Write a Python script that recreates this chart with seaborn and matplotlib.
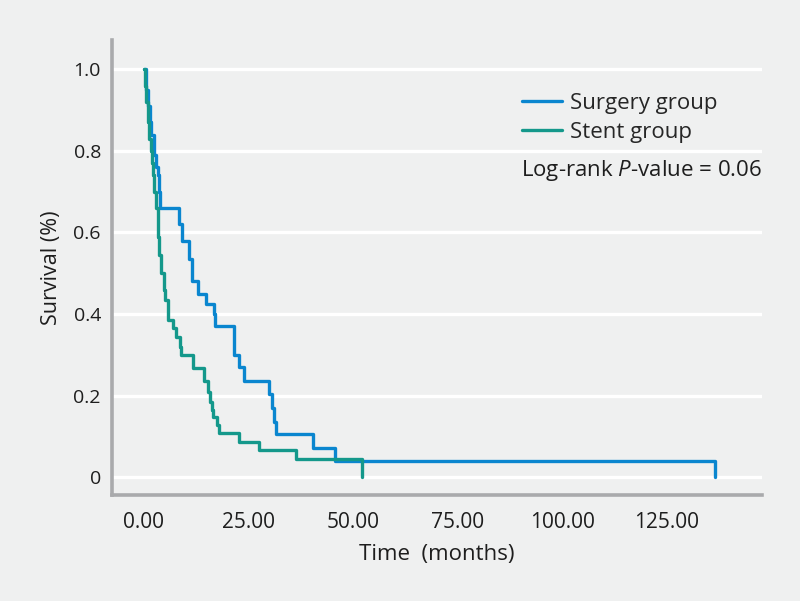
import pandas as pd
import seaborn as sns
import matplotlib.pyplot as plt

# Kaplan-Meier steps: time (months) and survival after that time
surgery_time = [0, 0.5, 1.0, 1.5, 1.8, 2.4, 2.9, 3.3, 3.6, 3.8, 8.4, 9.2, 10.8, 11.5,
                12.9, 14.8, 16.7, 17.0, 21.5, 22.7, 23.9, 29.9, 30.6, 31.1, 31.6,
                40.4, 45.7, 136.6]
surgery_surv = [1.0, 0.95, 0.91, 0.87, 0.84, 0.79, 0.76, 0.74, 0.70, 0.66, 0.62, 0.58,
                0.535, 0.48, 0.45, 0.425, 0.40, 0.37, 0.30, 0.27, 0.235, 0.205, 0.17,
                0.135, 0.105, 0.072, 0.04, 0.0]

stent_time = [0, 0.3, 0.6, 1.0, 1.3, 1.7, 2.0, 2.2, 2.5, 2.9, 3.35, 3.6, 4.2, 4.8, 5.1,
              5.7, 6.9, 7.7, 8.6, 8.9, 11.7, 14.4, 15.3, 15.8, 16.2, 16.5, 17.5, 17.9,
              22.7, 27.5, 36.4, 52.2]
stent_surv = [1.0, 0.96, 0.92, 0.87, 0.83, 0.80, 0.77, 0.74, 0.70, 0.66, 0.59, 0.544,
              0.50, 0.46, 0.434, 0.385, 0.365, 0.343, 0.32, 0.30, 0.267, 0.235, 0.21,
              0.184, 0.165, 0.147, 0.128, 0.108, 0.086, 0.066, 0.046, 0.0]

groups = ['Surgery group', 'Stent group']
colors = ['#0a86cf', '#14988b']
y_ticks = [0, 0.2, 0.4, 0.6, 0.8, 1.0]
y_tick_labels = ['0', '0.2', '0.4', '0.6', '0.8', '1.0']
x_ticks = [0, 25, 50, 75, 100, 125]
x_tick_labels = ['0.00', '25.00', '50.00', '75.00', '100.00', '125.00']

df = pd.concat([
    pd.DataFrame({'Time': surgery_time, 'Survival': surgery_surv, 'Group': groups[0]}),
    pd.DataFrame({'Time': stent_time, 'Survival': stent_surv, 'Group': groups[1]}),
])

bg = '#eff0f0'
text_color = '#1e1e1e'
sns.set_theme(style='white')
plt.rcParams['font.family'] = ['Open Sans', 'DejaVu Sans']
plt.rcParams['mathtext.fontset'] = 'custom'
plt.rcParams['mathtext.rm'] = 'Open Sans'
plt.rcParams['mathtext.it'] = 'Open Sans:italic'

fig = plt.figure(figsize=(8, 6.01), dpi=100, facecolor=bg)
ax = fig.add_axes([0.14, 0.176, 0.8125, 0.757])
ax.set_facecolor(bg)

for y in y_ticks:
    ax.axhline(y, color='white', lw=2.4, zorder=0)

sns.lineplot(data=df, x='Time', y='Survival', hue='Group', hue_order=groups,
             palette=colors, estimator=None, sort=True, drawstyle='steps-post',
             linewidth=2.4, ax=ax, zorder=3)

ax.set_xlim(-7.6, 147.8)
ax.set_ylim(-0.044, 1.071)
ax.set_xticks(x_ticks)
ax.set_xticklabels(x_tick_labels)
ax.set_yticks(y_ticks)
ax.set_yticklabels(y_tick_labels)
ax.tick_params(length=0, colors=text_color)
ax.tick_params(axis='x', labelsize=15, pad=12)
ax.tick_params(axis='y', labelsize=14, pad=8)

for side in ['top', 'right']:
    ax.spines[side].set_visible(False)
for side in ['left', 'bottom']:
    ax.spines[side].set_color('#a9aaac')
    ax.spines[side].set_linewidth(2.6)

ax.set_xlabel('Time  (months)', fontsize=16, color=text_color, labelpad=8)
ax.set_ylabel('Survival (%)', fontsize=15.5, color=text_color, labelpad=8)

handles, labels = ax.get_legend_handles_labels()
ax.legend(handles, labels, loc='upper left', bbox_to_anchor=(0.652, 0.845),
          bbox_transform=fig.transFigure, frameon=False, fontsize=16,
          handlelength=1.8, handletextpad=0.36, labelspacing=0.34, borderpad=0,
          borderaxespad=0)

ax.text(1.0, 0.713, 'Log-rank $P$-value = 0.06', transform=ax.transAxes,
        ha='right', va='center', fontsize=16, color=text_color)

fig.savefig('out.png', dpi=100, facecolor=bg)
